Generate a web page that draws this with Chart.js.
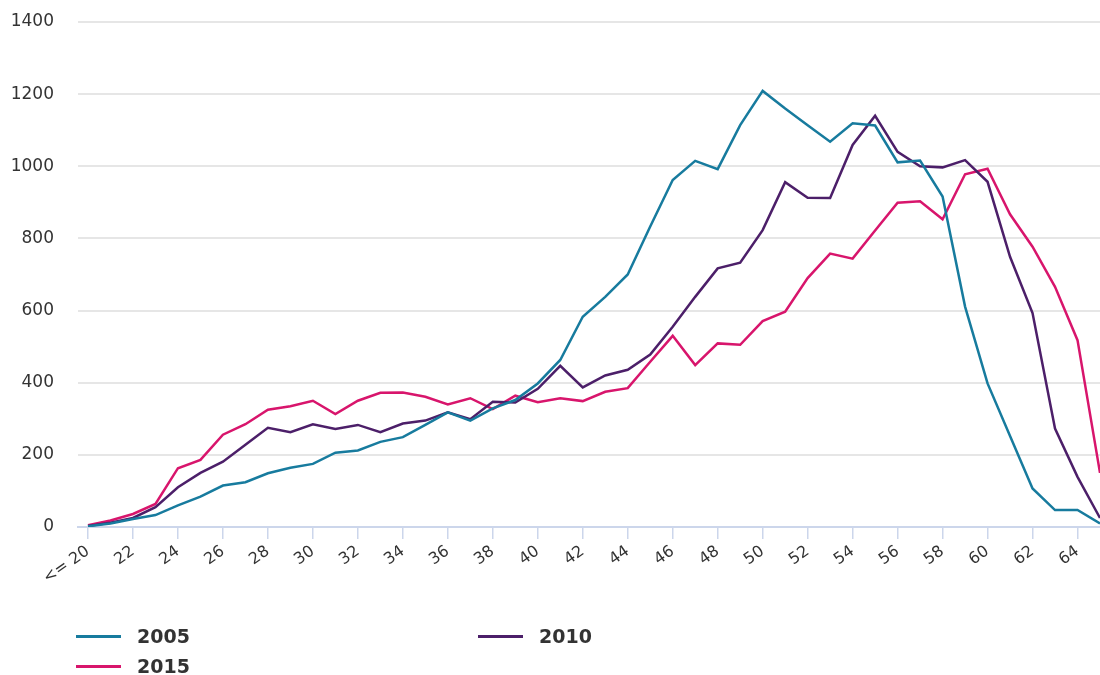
<!DOCTYPE html>
<html>
<head>
<meta charset="utf-8">
<script src="https://cdn.jsdelivr.net/npm/chart.js@4.4.1/dist/chart.umd.min.js"></script>
<style>
  html, body { margin: 0; padding: 0; background: #fff; }
  #wrap { position: relative; width: 1100px; height: 675px; }
  #legend .item { position: absolute; display: flex; align-items: center; height: 24px; }
  #legend .swatch { width: 45px; height: 3px; margin-right: 16px; }
  #legend .label { font: bold 19px "DejaVu Sans", Verdana, sans-serif; color: #333; }
</style>
</head>
<body>
<div id="wrap">
  <canvas id="chart" width="1100" height="675"></canvas>
  <div id="legend"></div>
</div>
<script>
// age categories (x axis)
const ages = ['<= 20', '21', '22', '23', '24', '25', '26', '27', '28', '29',
  '30', '31', '32', '33', '34', '35', '36', '37', '38', '39',
  '40', '41', '42', '43', '44', '45', '46', '47', '48', '49',
  '50', '51', '52', '53', '54', '55', '56', '57', '58', '59',
  '60', '61', '62', '63', '64', '65'];

const yTicks = [0, 200, 400, 600, 800, 1000, 1200, 1400];

// values
const values2005 = [2, 10, 22, 33, 60, 84, 115, 124, 149, 164,
  175, 206, 212, 236, 249, 283, 318, 295, 329, 352,
  398, 463, 583, 638, 700, 833, 962, 1015, 992, 1114,
  1209, 1160, 1114, 1068, 1119, 1113, 1011, 1016, 916, 611,
  398, 252, 107, 47, 47, 10];

const values2010 = [3, 12, 25, 55, 110, 150, 181, 228, 275, 263,
  285, 272, 283, 263, 287, 295, 318, 299, 347, 345,
  383, 447, 387, 420, 436, 478, 555, 638, 717, 733,
  823, 956, 913, 912, 1059, 1140, 1040, 1000, 997, 1017,
  957, 749, 593, 273, 139, 25];

const values2015 = [5, 18, 36, 64, 163, 186, 256, 285, 325, 335,
  350, 313, 350, 372, 373, 361, 340, 357, 327, 364,
  346, 357, 349, 375, 385, 458, 530, 449, 509, 505,
  571, 597, 690, 758, 744, 822, 899, 903, 853, 978,
  993, 867, 777, 666, 518, 150];

const series = [
  { label: '2005', data: values2005, color: '#177b9e' },
  { label: '2010', data: values2010, color: '#4c1f69' },
  { label: '2015', data: values2015, color: '#d8156c' }
];

const font = '"DejaVu Sans", Verdana, sans-serif';

new Chart(document.getElementById('chart'), {
  type: 'line',
  data: {
    datasets: series.map(s => ({
      label: s.label,
      data: s.data.map((v, i) => ({ x: i, y: v })),
      borderColor: s.color,
      backgroundColor: s.color,
      borderWidth: 2.5,
      pointRadius: 0,
      tension: 0
    }))
  },
  options: {
    responsive: false,
    animation: false,
    layout: { padding: { top: 22, right: 0, bottom: 0, left: 0 } },
    plugins: {
      legend: { display: false },
      tooltip: { enabled: false }
    },
    scales: {
      x: {
        type: 'linear',
        min: -10 / 22.5,
        max: ages.length - 1,
        afterBuildTicks: scale => {
          scale.ticks = ages.map((a, i) => i).filter(i => i % 2 === 0 && i < ages.length - 1).map(v => ({ value: v }));
        },
        afterFit: scale => { scale.height = 148; },
        ticks: {
          autoSkip: false,
          minRotation: 35,
          maxRotation: 35,
          color: '#333',
          font: { family: font, size: 16 },
          padding: 3,
          callback: v => ages[v]
        },
        grid: {
          drawOnChartArea: false,
          drawTicks: true,
          tickLength: 12,
          color: '#ccd6eb',
          lineWidth: 1.5
        },
        border: { color: '#ccd6eb', width: 2 }
      },
      y: {
        min: 0,
        max: 1400,
        afterBuildTicks: scale => {
          scale.ticks = yTicks.map(v => ({ value: v }));
        },
        afterFit: scale => {
          // tick padding would otherwise push the plot area down
          scale.width = 78;
          scale.paddingTop = 11;
          scale.paddingBottom = 0;
        },
        ticks: {
          color: '#333',
          font: { family: font, size: 17 },
          padding: 24,
          callback: v => String(v)
        },
        grid: {
          color: '#e6e6e6',
          lineWidth: 2,
          drawTicks: false
        },
        border: { display: false }
      }
    }
  }
});

// legend in two columns like the reference
const legendPos = [
  { left: 76, top: 624 },
  { left: 478, top: 624 },
  { left: 76, top: 654 }
];
const legend = document.getElementById('legend');
series.forEach((s, i) => {
  const item = document.createElement('div');
  item.className = 'item';
  item.style.left = legendPos[i].left + 'px';
  item.style.top = legendPos[i].top + 'px';
  item.innerHTML = '<span class="swatch" style="background:' + s.color + '"></span><span class="label">' + s.label + '</span>';
  legend.appendChild(item);
});
</script>
</body>
</html>
